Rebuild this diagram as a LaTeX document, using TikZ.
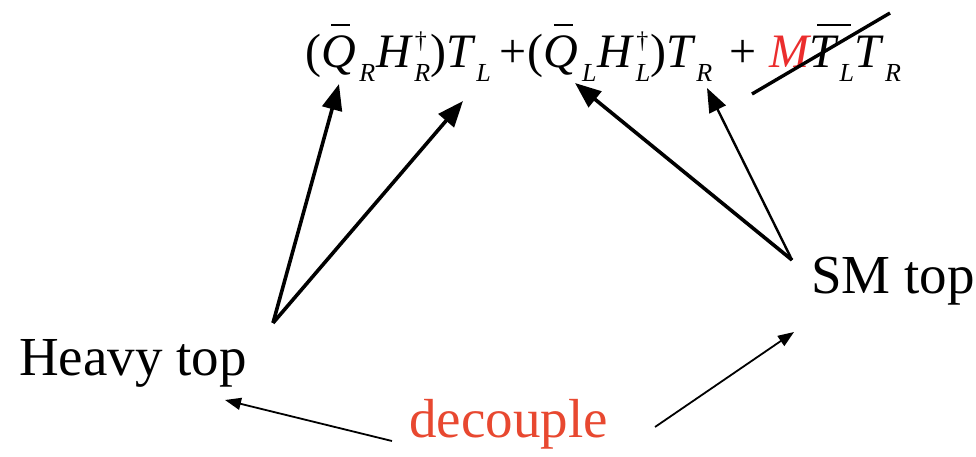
\documentclass[tikz,border=0pt]{standalone}
\usepackage{fontspec}
\setmainfont{Liberation Serif}
\usetikzlibrary{arrows.meta}
\definecolor{decred}{RGB}{232,72,48}
\definecolor{mred}{RGB}{235,45,45}
\newcommand{\sbs}[1]{\hspace{3.5pt}\raisebox{-14pt}{\fontsize{26}{26}\selectfont\itshape #1}}
\newcommand{\sps}[1]{\hspace{4pt}\raisebox{19pt}{\fontsize{24}{24}\selectfont\upshape #1}}
\newcommand{\supsub}[2]{\rlap{\sps{#1}}\sbs{#2}}
\newcommand{\ovl}[3]{\rlap{\hspace{#2}\raisebox{42pt}{\rule{#3}{2.2pt}}}#1}
\begin{document}
\begin{tikzpicture}[x=1pt,y=-1pt,
  lbl/.style={inner sep=0pt,anchor=base west,font=\fontsize{55}{60}\selectfont},
  fml/.style={inner sep=0pt,anchor=base west,font=\fontsize{48}{50}\selectfont\itshape},
  thickarr/.style={line width=3.6pt,-{Triangle[length=26pt,width=20pt]}},
  medarr/.style={line width=2.4pt,-{Triangle[length=24pt,width=18pt]}},
  thinarr/.style={line width=1.8pt,-{Triangle[length=16pt,width=12pt]}},
  strike/.style={line width=3.4pt}]
\useasboundingbox (0,0) rectangle (976,457);
\fill[white] (0,0) rectangle (976,457);
% texts
\node[fml] (formula) at (305,68) {\upshape(\itshape\ovl{Q}{10pt}{19pt}\sbs{R}\hspace{1pt}H\supsub{\textdagger}{R}\upshape)\itshape T\sbs{L}\hspace{9pt}\upshape+\hspace{1pt}(\itshape\ovl{Q}{10pt}{19pt}\sbs{L}\hspace{1pt}H\supsub{\textdagger}{L}\upshape)\itshape T\sbs{R}\hspace{17pt}\upshape+\hspace{13pt}\itshape{\color{mred}M}\ovl{T}{8pt}{34pt}\sbs{L}\hspace{1pt}T\sbs{R}};
\node[lbl] (heavy) at (19,375) {Heavy top};
\node[lbl] (sm) at (811,293) {SM top};
\node[lbl,text=decred] (dec) at (409,437) {decouple};
% connector end points
\coordinate (hvA) at (273,323);
\coordinate (qr) at (339,84);
\coordinate (tl) at (463,101);
\coordinate (smA) at (792,260);
\coordinate (ql) at (575,83);
\coordinate (tr) at (707,88);
\coordinate (stA) at (752,94);
\coordinate (stB) at (890,13);
\coordinate (decL) at (392,441);
\coordinate (hvTip) at (225,400);
\coordinate (decR) at (655,427);
\coordinate (smTip) at (794,332);
% connectors
\draw[thickarr] (hvA) -- (qr);
\draw[thickarr] (hvA) -- (tl);
\draw[thickarr] (smA) -- (ql);
\draw[medarr] (smA) -- (tr);
\draw[strike] (stA) -- (stB);
\draw[thinarr] (decL) -- (hvTip);
\draw[thinarr] (decR) -- (smTip);
\end{tikzpicture}
\end{document}
